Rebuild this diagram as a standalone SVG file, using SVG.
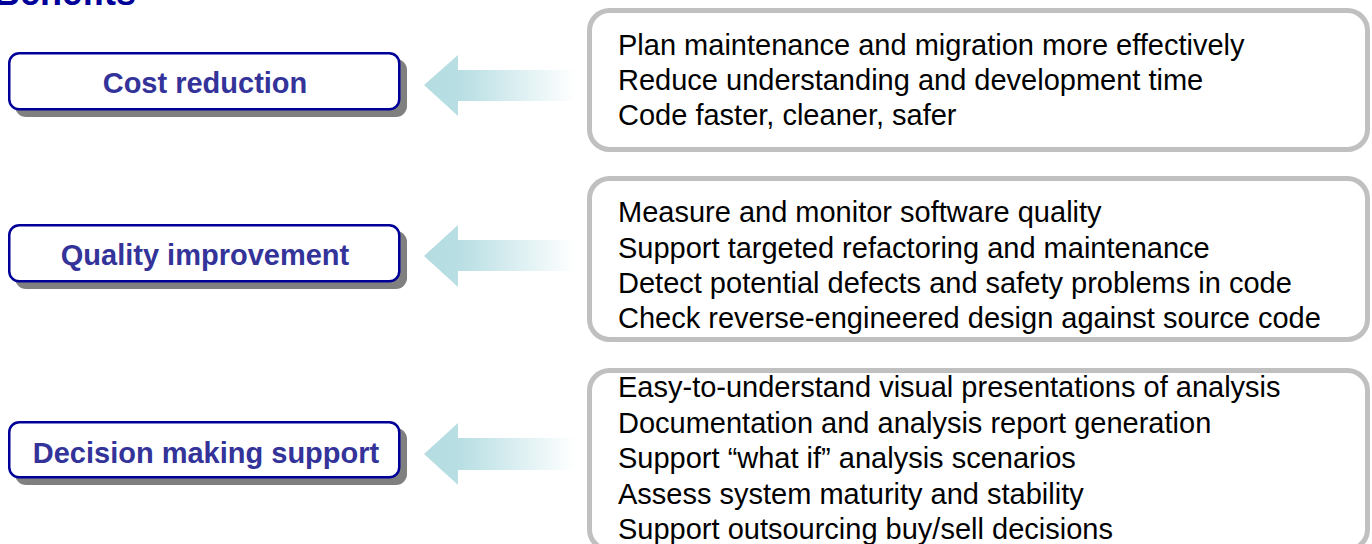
<svg xmlns="http://www.w3.org/2000/svg" width="1372" height="544" viewBox="0 0 1372 544">
<style>
.title{font-family:"Liberation Sans",Arial,sans-serif;font-weight:bold;font-size:36px;fill:#000099}
.lbl{font-family:"Liberation Sans",Arial,sans-serif;font-weight:bold;font-size:29px;fill:#333399;text-anchor:middle}
.txt{font-family:"Liberation Sans",Arial,sans-serif;font-size:29px;fill:#000000}
.shadow{fill:#808080}
.lbox{fill:#ffffff;stroke:#000099;stroke-width:2.5}
.rbox{fill:#ffffff;stroke:#c0c0c0;stroke-width:5}
.arrow{fill:url(#ag)}
</style>
<defs>
<linearGradient id="ag" gradientUnits="objectBoundingBox" x1="0" y1="0" x2="1" y2="0">
<stop offset="0" stop-color="#b4dce1"/>
<stop offset="0.25" stop-color="#b9dfe4"/>
<stop offset="1" stop-color="#ffffff"/>
</linearGradient>
</defs>
<rect width="1372" height="544" fill="#ffffff"/>
<text class="title" x="-6" y="5">Benefits</text>

<g id="cost">
<rect class="shadow" x="15" y="59" width="392" height="58" rx="11"/>
<rect class="lbox" x="9.25" y="53.25" width="390" height="56" rx="10"/>
<text class="lbl" x="205" y="93">Cost reduction</text>
</g>
<g id="quality">
<rect class="shadow" x="15" y="231" width="392" height="58" rx="11"/>
<rect class="lbox" x="9.25" y="225.25" width="390" height="56" rx="10"/>
<text class="lbl" x="205" y="265">Quality improvement</text>
</g>
<g id="decision">
<rect class="shadow" x="15" y="428" width="392" height="57" rx="11"/>
<rect class="lbox" x="9.25" y="422.25" width="390" height="55" rx="10"/>
<text class="lbl" x="206" y="463">Decision making support</text>
</g>

<g id="connectors">
<polygon class="arrow" points="424,85 458,55 458,70 575,70 575,101 458,101 458,116"/>
<polygon class="arrow" points="424,256 458,225 458,240 575,240 575,271 458,271 458,287"/>
<polygon class="arrow" points="424,454 458,423 458,438 575,438 575,470 458,470 458,485"/>
</g>

<g id="cost-details">
<rect class="rbox" x="589.5" y="10.5" width="778" height="139" rx="20"/>
<text class="txt" x="618" y="55">Plan maintenance and migration more effectively</text>
<text class="txt" x="618" y="90">Reduce understanding and development time</text>
<text class="txt" x="618" y="125">Code faster, cleaner, safer</text>
</g>
<g id="quality-details">
<rect class="rbox" x="589.5" y="178.5" width="778" height="161" rx="20"/>
<text class="txt" x="618" y="222">Measure and monitor software quality</text>
<text class="txt" x="618" y="258">Support targeted refactoring and maintenance</text>
<text class="txt" x="618" y="293">Detect potential defects and safety problems in code</text>
<text class="txt" x="618" y="328">Check reverse-engineered design against source code</text>
</g>
<g id="decision-details">
<rect class="rbox" x="589.5" y="370.5" width="778" height="179" rx="20"/>
<text class="txt" x="618" y="397">Easy-to-understand visual presentations of analysis</text>
<text class="txt" x="618" y="433">Documentation and analysis report generation</text>
<text class="txt" x="618" y="468">Support “what if” analysis scenarios</text>
<text class="txt" x="618" y="504">Assess system maturity and stability</text>
<text class="txt" x="618" y="539">Support outsourcing buy/sell decisions</text>
</g>
</svg>
